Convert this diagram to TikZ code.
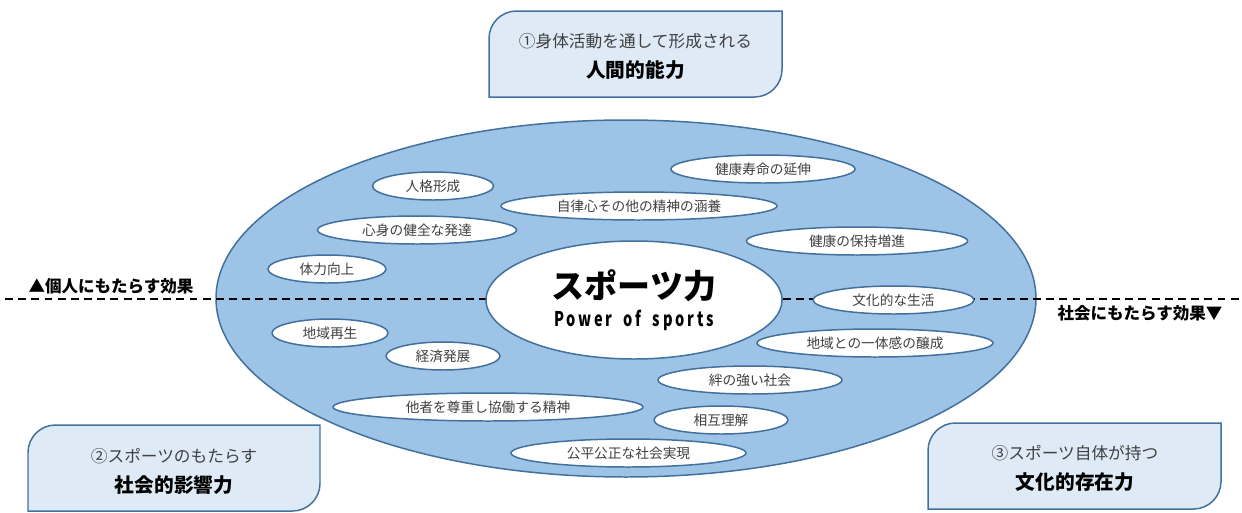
\documentclass[tikz,border=0pt]{standalone}
\usepackage{fontspec}
\setmainfont{Noto Sans CJK JP}
\newfontfamily\pwfont[FakeStretch=0.72,LetterSpace=14]{Noto Sans CJK JP}
\usepackage{tikz}
\usetikzlibrary{shapes.geometric}
\definecolor{edge}{HTML}{41719C}
\definecolor{field}{HTML}{9DC3E6}
\definecolor{panel}{HTML}{DEEBF7}
\definecolor{grey}{HTML}{404040}
\tikzstyle{none}=[inner sep=0pt]
\tikzstyle{field}=[ellipse,draw=edge,fill=field,line width=0.85]
\tikzstyle{effect}=[ellipse,draw=edge,fill=white,line width=0.85,inner sep=0pt,minimum height=0.56cm,text=grey,font=\fontsize{7.8}{9}\selectfont]
\tikzstyle{core}=[ellipse,draw=edge,fill=white,line width=0.85,inner sep=0pt,minimum width=5.92cm,minimum height=2.36cm,align=center]
\tikzstyle{panel}=[draw=edge,fill=panel,line width=0.85]
\tikzstyle{split}=[draw=black,line width=0.85,dash pattern=on 4.5pt off 3pt]
\tikzstyle{side}=[inner sep=0pt,font=\fontsize{9.4}{11}\selectfont\bfseries]
\tikzstyle{caption}=[inner sep=0pt,align=center]

\begin{document}
\begin{tikzpicture}
  \useasboundingbox (0,0) rectangle (24.84,-10.24);
  % whole field
  \node [style=field,minimum width=16.4cm,minimum height=7.14cm] (0) at (12.52,-5.97) {};
  \coordinate (1) at (0.1,-5.98);
  \coordinate (2) at (24.84,-5.98);
  \draw [style=split] (1) to (2);
  \node [style=side] (3) at (2.22,-5.72) {▲個人にもたらす効果};
  \node [style=side] (4) at (22.8,-6.26) {社会にもたらす効果▼};
  % effects
  \node [style=effect,minimum width=2.42cm] (5) at (8.66,-3.72) {人格形成};
  \node [style=effect,minimum width=3.68cm] (6) at (15.26,-3.38) {健康寿命の延伸};
  \node [style=effect,minimum width=5.52cm] (7) at (12.78,-4.12) {自律心その他の精神の涵養};
  \node [style=effect,minimum width=3.98cm] (8) at (8.34,-4.6) {心身の健全な発達};
  \node [style=effect,minimum width=4.42cm] (9) at (17.14,-4.82) {健康の保持増進};
  \node [style=effect,minimum width=2.36cm] (10) at (6.54,-5.38) {体力向上};
  \node [style=effect,minimum width=3.22cm] (11) at (17.87,-6.0) {文化的な生活};
  \node [style=effect,minimum width=2.32cm] (12) at (6.6,-6.66) {地域再生};
  \node [style=effect,minimum width=4.72cm] (13) at (17.5,-6.86) {地域との一体感の醸成};
  \node [style=effect,minimum width=2.28cm] (14) at (8.86,-7.12) {経済発展};
  \node [style=effect,minimum width=3.68cm] (15) at (15.0,-7.6) {絆の強い社会};
  \node [style=effect,minimum width=6.2cm] (16) at (9.76,-8.14) {他者を尊重し協働する精神};
  \node [style=effect,minimum width=2.68cm] (17) at (14.42,-8.4) {相互理解};
  \node [style=effect,minimum width=4.7cm] (18) at (12.57,-9.06) {公平公正な社会実現};
  % centre
  \node [style=core] (19) at (12.68,-6.0) {{\fontsize{18.8}{20}\selectfont\bfseries スポーツ力}\\[4pt]{\pwfont\bfseries\fontsize{11.5}{13}\selectfont Power\hspace{0.55em}of\hspace{0.55em}sports}};
  % three panels
  \draw [style=panel] (9.78,-1.94) -- (9.78,-0.77) arc[start angle=180,end angle=90,radius=0.55] -- (15.64,-0.22) -- (15.64,-1.39) arc[start angle=0,end angle=-90,radius=0.55] -- cycle;
  \draw [style=panel] (0.56,-10.22) -- (0.56,-9.05) arc[start angle=180,end angle=90,radius=0.55] -- (6.4,-8.5) -- (6.4,-9.67) arc[start angle=0,end angle=-90,radius=0.55] -- cycle;
  \draw [style=panel] (18.56,-10.18) -- (18.56,-9.01) arc[start angle=180,end angle=90,radius=0.55] -- (24.42,-8.46) -- (24.42,-9.63) arc[start angle=0,end angle=-90,radius=0.55] -- cycle;
  \node [style=caption] (20) at (12.71,-1.13) {{\color{grey}\fontsize{9.5}{11}\selectfont ①身体活動を通して形成される}\\[5pt]{\fontsize{11.2}{13}\selectfont\bfseries 人間的能力}};
  \node [style=caption] (21) at (3.48,-9.42) {{\color{grey}\fontsize{9.5}{11}\selectfont ②スポーツのもたらす}\\[5pt]{\fontsize{11.2}{13}\selectfont\bfseries 社会的影響力}};
  \node [style=caption] (22) at (21.5,-9.36) {{\color{grey}\fontsize{9.5}{11}\selectfont ③スポーツ自体が持つ}\\[5pt]{\fontsize{11.2}{13}\selectfont\bfseries 文化的存在力}};
\end{tikzpicture}
\end{document}
